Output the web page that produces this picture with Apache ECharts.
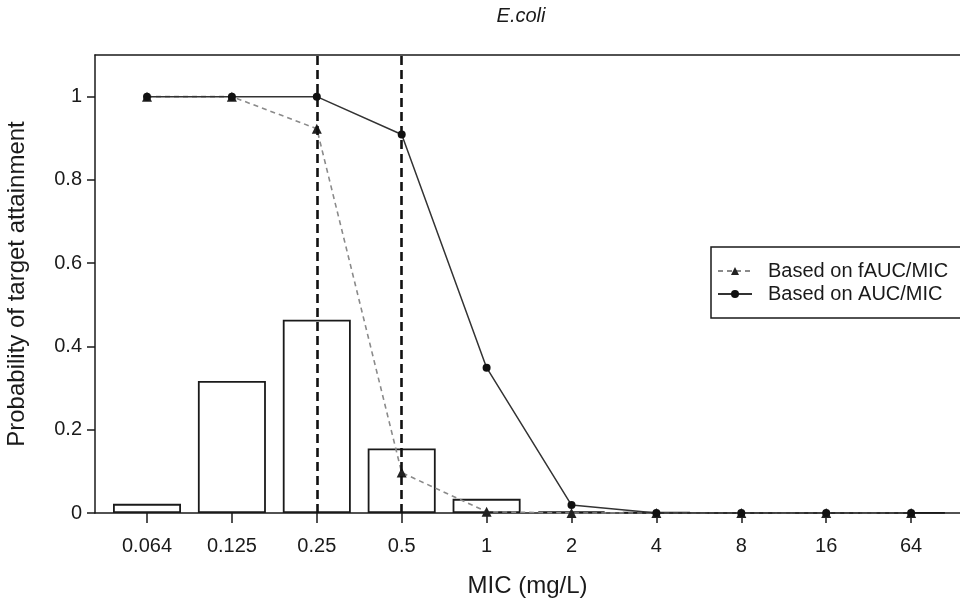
<!DOCTYPE html>
<html>
<head>
<meta charset="utf-8">
<script src="https://cdn.jsdelivr.net/npm/echarts@6/dist/echarts.min.js"></script>
<style>
  html, body { margin: 0; padding: 0; background: #fff; }
  #chart { width: 960px; height: 603px; }
</style>
</head>
<body>
<div id="chart"></div>
<script>
// MIC categories (mg/L) and their plotting positions
const micLabels = ['0.064', '0.125', '0.25', '0.5', '1', '2', '4', '8', '16', '64'];
// MIC distribution (fraction of isolates)
const micDistribution = [0.022, 0.317, 0.464, 0.155, 0.034, 0.004, 0.002, 0.001, 0.001, 0.001];
// Probability of target attainment
const ptaFreeAuc = [1, 1, 0.923, 0.097, 0.003, 0, 0, 0, 0, 0];
const ptaTotalAuc = [1, 1, 1, 0.909, 0.349, 0.019, 0, 0, 0, 0];
// Breakpoints marked with vertical dashed lines
const breakpoints = ['0.25', '0.5'];
const yTicks = [0, 0.2, 0.4, 0.6, 0.8, 1];

const idx = micLabels.map((_, i) => i);
const pairs = (vals) => vals.map((v, i) => [i, v]);
const fmtY = (v) => (Math.abs(v - 1) < 1e-9 ? '1' : Math.abs(v) < 1e-9 ? '0' : String(+v.toFixed(1)));

const font = '"Liberation Sans", Arial, Helvetica, sans-serif';
const ink = '#1a1a1a';

const chart = echarts.init(document.getElementById('chart'), null, { renderer: 'canvas' });

chart.setOption({
  animation: false,
  backgroundColor: '#fff',
  textStyle: { fontFamily: font, color: ink },
  title: {
    text: 'E.coli',
    left: 516,
    top: 1,
    textAlign: 'center',
    textStyle: { fontFamily: font, fontSize: 20, fontStyle: 'italic', fontWeight: 'normal', color: ink }
  },
  legend: {
    left: 711,
    top: 247,
    orient: 'vertical',
    itemGap: 3,
    itemWidth: 34,
    itemHeight: 10,
    borderColor: ink,
    borderWidth: 1.5,
    borderRadius: 0,
    padding: [14, 60, 14, 6],
    textStyle: { fontFamily: font, fontSize: 20, color: ink, padding: [0, 0, 0, 11] },
    data: ['Based on fAUC/MIC', 'Based on AUC/MIC']
  },
  grid: { left: 95, right: 0, top: 55, bottom: 90, containLabel: false, outerBoundsMode: 'none' },
  xAxis: [
    {
      type: 'value',
      min: -0.6125,
      max: 9.576,
      name: 'MIC (mg/L)',
      nameLocation: 'middle',
      nameGap: 61,
      nameTextStyle: { fontFamily: font, fontSize: 24, color: ink },
      splitLine: { show: false },
      axisLine: { show: true, onZero: false, lineStyle: { color: ink, width: 1.5 } },
      axisTick: { show: true, length: 10, customValues: idx, lineStyle: { color: ink, width: 1.5 } },
      axisLabel: {
        customValues: idx,
        margin: 23,
        fontFamily: font,
        fontSize: 20,
        color: ink,
        formatter: (v) => micLabels[Math.round(v)]
      }
    },
    {
      type: 'value',
      position: 'top',
      min: -0.6125,
      max: 9.576,
      splitLine: { show: false },
      axisLine: { show: true, onZero: false, lineStyle: { color: ink, width: 1.5 } },
      axisTick: { show: false },
      axisLabel: { show: false }
    }
  ],
  yAxis: {
    type: 'value',
    min: 0,
    max: 1.1,
    name: 'Probability of target attainment',
    nameLocation: 'middle',
    nameGap: 66,
    nameTextStyle: { fontFamily: font, fontSize: 24, color: ink },
    splitLine: { show: false },
    axisLine: { show: true, onZero: false, lineStyle: { color: ink, width: 1.5 } },
    axisTick: { show: true, length: 8, customValues: yTicks, lineStyle: { color: ink, width: 1.5 } },
    axisLabel: {
      customValues: yTicks,
      margin: 13,
      fontFamily: font,
      fontSize: 20,
      color: ink,
      formatter: fmtY
    }
  },
  series: [
    {
      name: 'MIC distribution',
      type: 'bar',
      data: pairs(micDistribution),
      barWidth: 68,
      z: 1,
      itemStyle: { color: '#fff', borderColor: ink, borderWidth: 1.8 },
      markLine: {
        silent: true,
        symbol: 'none',
        label: { show: false },
        lineStyle: { color: '#111', width: 2.6, type: [9, 5] },
        data: breakpoints.map((b) => ({ xAxis: micLabels.indexOf(b) }))
      }
    },
    {
      name: 'Based on fAUC/MIC',
      type: 'line',
      data: pairs(ptaFreeAuc),
      z: 3,
      symbol: 'triangle',
      symbolSize: 10,
      showAllSymbol: true,
      itemStyle: { color: '#222' },
      lineStyle: { color: '#8a8a8a', width: 1.6, type: [5, 4] }
    },
    {
      name: 'Based on AUC/MIC',
      type: 'line',
      data: pairs(ptaTotalAuc),
      z: 4,
      symbol: 'circle',
      symbolSize: 8,
      showAllSymbol: true,
      itemStyle: { color: '#111' },
      lineStyle: { color: '#333', width: 1.5, type: 'solid' }
    }
  ]
});
</script>
</body>
</html>
